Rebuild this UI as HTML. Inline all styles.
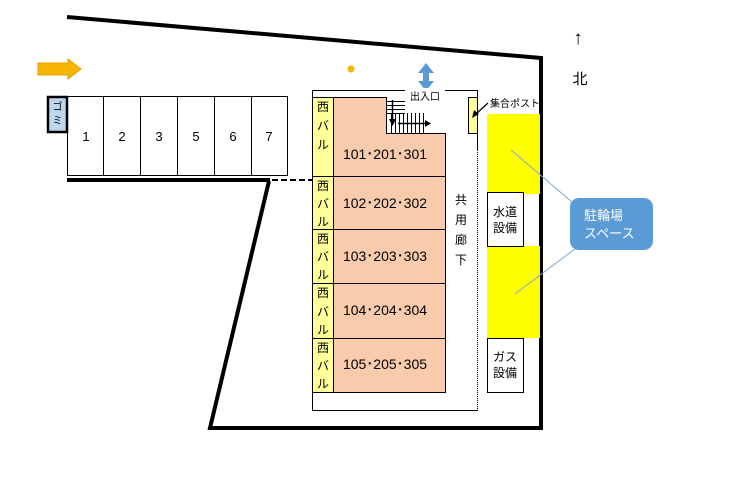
<!DOCTYPE html>
<html><head><meta charset="utf-8"><style>
html,body{margin:0;padding:0;background:#fff}
svg text{font-family:"Liberation Sans","Noto Sans CJK JP",sans-serif}
</style></head><body>
<svg width="743" height="478" viewBox="0 0 743 478" xmlns="http://www.w3.org/2000/svg">
<rect width="743" height="478" fill="#fff"/>
<polyline points="67,17 541,58 541,428 210,428 269,181" fill="none" stroke="#000" stroke-width="4"/>
<line x1="67" y1="180" x2="270" y2="180" stroke="#000" stroke-width="4"/>
<line x1="272" y1="180" x2="312" y2="180" stroke="#000" stroke-width="2" stroke-dasharray="6,3"/>
<polygon points="38,63 68,63 68,59 81,69 68,79 68,75 38,75" fill="#f5b400" stroke="#e8a000" stroke-width="1"/>
<g fill="#fff" stroke="#000" stroke-width="1">
<rect x="67.5" y="96.5" width="36" height="79"/><rect x="103.5" y="96.5" width="37" height="79"/>
<rect x="140.5" y="96.5" width="37" height="79"/><rect x="177.5" y="96.5" width="37" height="79"/>
<rect x="214.5" y="96.5" width="37" height="79"/><rect x="251.5" y="96.5" width="36" height="79"/>
</g>
<g font-size="13" text-anchor="middle" fill="#000">
<text x="86" y="141">1</text><text x="122" y="141">2</text><text x="159" y="141">3</text>
<text x="196" y="141">5</text><text x="233" y="141">6</text><text x="269" y="141">7</text>
</g>
<rect x="48" y="97" width="19" height="35" fill="#bdd7ee" stroke="#000" stroke-width="2.5"/>
<text x="57.5" y="110" font-size="10" text-anchor="middle">ゴ</text>
<text x="57.5" y="124" font-size="10" text-anchor="middle">ミ</text>
<circle cx="351" cy="69" r="3.5" fill="#f5b400"/>
<polygon points="426,63 434,73 429,73 429,81 434,81 426,91 418,81 423,81 423,73 418,73" fill="#5b9bd5"/>
<rect x="312.5" y="90.5" width="165" height="320" fill="#fff" stroke="#000" stroke-width="1"/>
<line x1="477.5" y1="150" x2="477.5" y2="410" stroke="#fff" stroke-width="2"/>
<line x1="477.5" y1="150" x2="477.5" y2="410" stroke="#000" stroke-width="1" stroke-dasharray="1,1"/>
<rect x="405" y="88" width="40" height="5" fill="#fff"/>
<text x="425" y="100" font-size="10" text-anchor="middle">出入口</text>
<g stroke="#000" stroke-width="1">
<polygon points="333.5,97.5 386.5,97.5 386.5,133.5 445.5,133.5 445.5,176.5 333.5,176.5" fill="#f8cbad"/>
<rect x="333.5" y="176.5" width="112" height="53" fill="#f8cbad"/>
<rect x="333.5" y="229.5" width="112" height="54" fill="#f8cbad"/>
<rect x="333.5" y="283.5" width="112" height="55" fill="#f8cbad"/>
<rect x="333.5" y="338.5" width="112" height="54" fill="#f8cbad"/>
<rect x="312.5" y="97.5" width="21" height="79" fill="#ffff99"/>
<rect x="312.5" y="176.5" width="21" height="53" fill="#ffff99"/>
<rect x="312.5" y="229.5" width="21" height="54" fill="#ffff99"/>
<rect x="312.5" y="283.5" width="21" height="55" fill="#ffff99"/>
<rect x="312.5" y="338.5" width="21" height="54" fill="#ffff99"/>
<line x1="312.5" y1="392.5" x2="333.5" y2="392.5"/>
</g>
<g stroke="#000" stroke-width="1">
<line x1="387" y1="101.5" x2="405" y2="101.5"/><line x1="387" y1="105.5" x2="405" y2="105.5"/>
<line x1="387" y1="109.5" x2="405" y2="109.5"/><line x1="387" y1="113.5" x2="405" y2="113.5"/>
<line x1="391.5" y1="113" x2="391.5" y2="133"/><line x1="395.5" y1="113" x2="395.5" y2="133"/>
<line x1="399.5" y1="113" x2="399.5" y2="133"/><line x1="403.5" y1="113" x2="403.5" y2="133"/>
<line x1="407.5" y1="113" x2="407.5" y2="133"/><line x1="411.5" y1="113" x2="411.5" y2="133"/>
<line x1="415.5" y1="113" x2="415.5" y2="133"/><line x1="419.5" y1="113" x2="419.5" y2="133"/>
<line x1="423.5" y1="113" x2="423.5" y2="133"/>
<line x1="392.5" y1="100" x2="392.5" y2="120" stroke-width="1.5"/>
<line x1="398" y1="123.5" x2="425" y2="123.5" stroke-width="1.5"/>
</g>
<polygon points="389,119 396,119 392.5,126" fill="#000"/>
<polygon points="425,120 431,123.5 425,127" fill="#000"/>
<g font-size="12" fill="#000" text-anchor="middle">
<text x="323" y="111">西</text><text x="323" y="130">バ</text><text x="323" y="149">ル</text>
<text x="323" y="190">西</text><text x="323" y="208">バ</text><text x="323" y="226">ル</text>
<text x="323" y="243">西</text><text x="323" y="261">バ</text><text x="323" y="279">ル</text>
<text x="323" y="297">西</text><text x="323" y="316">バ</text><text x="323" y="334">ル</text>
<text x="323" y="352">西</text><text x="323" y="370">バ</text><text x="323" y="388">ル</text>
</g>
<g font-size="14" fill="#000" text-anchor="middle">
<text x="385" y="159">101･201･301</text>
<text x="385" y="208">102･202･302</text>
<text x="385" y="261">103･203･303</text>
<text x="385" y="315">104･204･304</text>
<text x="385" y="369">105･205･305</text>
</g>
<g font-size="12" fill="#000" text-anchor="middle">
<text x="461" y="204">共</text><text x="461" y="224">用</text><text x="461" y="244">廊</text><text x="461" y="264">下</text>
</g>
<rect x="468.5" y="97.5" width="9" height="36" fill="#ffff99" stroke="#000" stroke-width="1"/>
<line x1="488" y1="103" x2="476" y2="114" stroke="#000" stroke-width="1.2"/>
<polygon points="472,118 474,110 479,114" fill="#000"/>
<text x="490" y="107" font-size="10">集合ポスト</text>
<rect x="487" y="114" width="53" height="80" fill="#ffff00"/>
<rect x="487" y="246" width="53" height="92" fill="#ffff00"/>
<rect x="487.5" y="192.5" width="36" height="54" fill="#fff" stroke="#000" stroke-width="1"/>
<rect x="487.5" y="338.5" width="36" height="54" fill="#fff" stroke="#000" stroke-width="1"/>
<g font-size="12" fill="#000" text-anchor="middle">
<text x="505" y="216">水道</text><text x="505" y="232">設備</text>
<text x="505" y="361">ガス</text><text x="505" y="377">設備</text>
</g>
<line x1="511" y1="150" x2="572" y2="202" stroke="#7fa7d0" stroke-width="1"/>
<line x1="515" y1="294" x2="576" y2="248" stroke="#7fa7d0" stroke-width="1"/>
<rect x="570" y="198" width="83" height="52" rx="9" fill="#5b9bd5"/>
<text x="584" y="220" font-size="13" fill="#fff">駐輪場</text>
<text x="584" y="238" font-size="13" fill="#fff">スペース</text>
<text x="578" y="44" font-size="19" text-anchor="middle">↑</text>
<text x="580" y="84" font-size="15" text-anchor="middle">北</text>
</svg>
</body></html>
